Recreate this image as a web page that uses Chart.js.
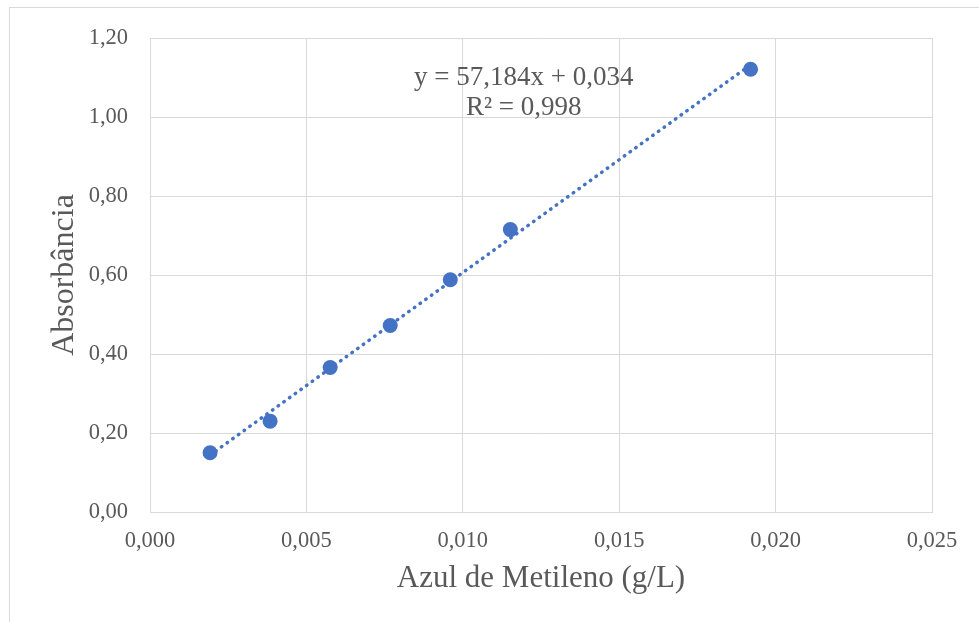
<!DOCTYPE html>
<html lang="pt">
<head>
  <meta charset="UTF-8">
  <title>Curva de calibração</title>
  <style>
    body { margin: 0; background: #fff; }
    canvas { display: block; }
  </style>
</head>
<body>
  <canvas id="curva" width="979" height="622"></canvas>

  <script src="https://cdn.jsdelivr.net/npm/chart.js"></script>
  <script>
    // pontos medidos
    const concentracao = [0.00192, 0.00384, 0.00576, 0.00768, 0.0096, 0.01152, 0.0192];
    const absorbancia = [0.150, 0.230, 0.366, 0.472, 0.588, 0.715, 1.121];
    // linha de tendência (extremos)
    const tendenciaX = [0.00192, 0.0192];
    const tendenciaY = [0.144, 1.132];
    const equacao = ["y = 57,184x + 0,034", "R² = 0,998"];

    const azul = "#4472C4";
    const cinza = "#595959";
    const grade = "#d9d9d9";
    const fonte = "'Liberation Serif', 'Times New Roman', serif";

    const virgula = (v, d) => v.toFixed(d).replace(".", ",");

    // moldura externa + texto da equação
    const extras = {
      id: "extras",
      beforeDraw(chart) {
        const ctx = chart.ctx;
        ctx.save();
        ctx.strokeStyle = grade;
        ctx.lineWidth = 1;
        ctx.strokeRect(9.5, 7.5, 1100, 800);
        ctx.restore();
      },
      afterDraw(chart) {
        const ctx = chart.ctx;
        const xs = chart.scales.x;
        const cx = xs.getPixelForValue(0.01195);
        ctx.save();
        ctx.fillStyle = cinza;
        ctx.font = "27px " + fonte;
        ctx.textAlign = "center";
        ctx.textBaseline = "middle";
        ctx.fillText(equacao[0], cx, 78);
        ctx.fillText(equacao[1], cx, 108);
        ctx.restore();
      }
    };

    new Chart(document.getElementById("curva").getContext("2d"), {
      type: "scatter",
      data: {
        datasets: [
          {
            label: "Tendência",
            data: tendenciaX.map((x, i) => ({ x: x, y: tendenciaY[i] })),
            showLine: true,
            borderColor: azul,
            borderWidth: 3.5,
            borderDash: [0.5, 6.5],
            borderCapStyle: "round",
            pointRadius: 0,
            fill: false
          },
          {
            label: "Absorbância",
            data: concentracao.map((x, i) => ({ x: x, y: absorbancia[i] })),
            backgroundColor: azul,
            borderColor: azul,
            pointRadius: 7.5,
            pointHoverRadius: 7.5,
            borderWidth: 0
          }
        ]
      },
      options: {
        responsive: false,
        animation: false,
        layout: { padding: { top: 38, right: 47, left: 0, bottom: 0 } },
        plugins: {
          legend: { display: false },
          tooltip: { enabled: false }
        },
        scales: {
          x: {
            type: "linear",
            min: 0,
            max: 0.025,
            afterFit: s => { s.height = 110; },
            grid: { color: grade, drawTicks: false },
            border: { color: grade },
            ticks: {
              stepSize: 0.005,
              padding: 16,
              color: cinza,
              font: { family: fonte, size: 22.5 },
              callback: v => virgula(v, 3)
            },
            title: {
              display: true,
              text: "Azul de Metileno (g/L)",
              color: cinza,
              font: { family: fonte, size: 31 },
              padding: { top: 0, bottom: 25 }
            }
          },
          y: {
            min: 0,
            max: 1.2,
            afterFit: s => { s.width = 150; },
            grid: { color: grade, drawTicks: false },
            border: { color: grade },
            ticks: {
              stepSize: 0.2,
              padding: 22,
              color: cinza,
              font: { family: fonte, size: 22.5 },
              callback: v => virgula(v, 2)
            },
            title: {
              display: true,
              text: "Absorbância",
              color: cinza,
              font: { family: fonte, size: 32 },
              padding: { top: 45, bottom: 0 }
            }
          }
        }
      },
      plugins: [extras]
    });
  </script>
</body>
</html>
